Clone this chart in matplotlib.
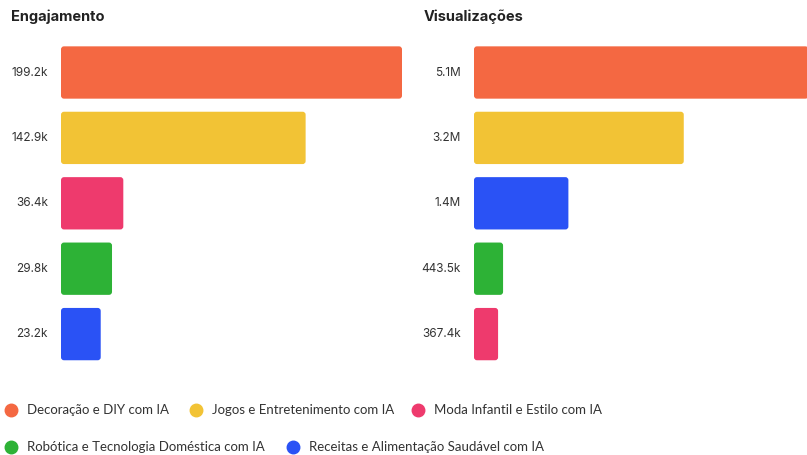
import matplotlib
matplotlib.use("Agg")
import matplotlib.pyplot as plt
from matplotlib.lines import Line2D
from matplotlib.patches import FancyBboxPatch

# Data
eng_categories = ["Decoração e DIY com IA", "Jogos e Entretenimento com IA",
                  "Moda Infantil e Estilo com IA", "Robótica e Tecnologia Doméstica com IA",
                  "Receitas e Alimentação Saudável com IA"]
eng_values = [199.2, 142.9, 36.4, 29.8, 23.2]          # thousands
eng_labels = ["199.2k", "142.9k", "36.4k", "29.8k", "23.2k"]

vis_categories = ["Decoração e DIY com IA", "Jogos e Entretenimento com IA",
                  "Receitas e Alimentação Saudável com IA", "Robótica e Tecnologia Doméstica com IA",
                  "Moda Infantil e Estilo com IA"]
vis_values = [5.1, 3.2, 1.44, 0.4435, 0.3674]            # millions
vis_labels = ["5.1M", "3.2M", "1.4M", "443.5k", "367.4k"]

legend_order = ["Decoração e DIY com IA", "Jogos e Entretenimento com IA",
                "Moda Infantil e Estilo com IA", "Robótica e Tecnologia Doméstica com IA",
                "Receitas e Alimentação Saudável com IA"]

colors = {
    "Decoração e DIY com IA": "#F46842",
    "Jogos e Entretenimento com IA": "#F2C335",
    "Moda Infantil e Estilo com IA": "#EE3A6D",
    "Robótica e Tecnologia Doméstica com IA": "#2DB236",
    "Receitas e Alimentação Saudável com IA": "#2A52F5",
}

W, H = 807, 455
fig = plt.figure(figsize=(W / 100, H / 100), dpi=100)
fig.patch.set_facecolor("white")

def px_axes(x0, y0_top, w, h):
    return fig.add_axes([x0 / W, 1 - (y0_top + h) / H, w / W, h / H])

pitch = 65.4
top = 72.5 - pitch / 2
ax_h = pitch * 5

def panel(ax, cats, vals, labels, xmax, title, title_x, w_px):
    ys = list(range(len(vals)))
    bars = ax.barh(ys, vals, height=0.80, color=[colors[c] for c in cats])
    ax.set_xlim(0, xmax)
    ax.set_ylim(4.5, -0.5)
    ax.axis("off")
    xpx = xmax / w_px
    ypx = 5 / ax_h
    for b in bars:
        b.set_visible(False)
        fp = FancyBboxPatch((b.get_x(), b.get_y()), b.get_width(), b.get_height(),
                            boxstyle=f"round,pad=0,rounding_size={3 * xpx}",
                            mutation_aspect=ypx / xpx,
                            facecolor=b.get_facecolor(), edgecolor="none")
        ax.add_patch(fp)
    for y, lab in zip(ys, labels):
        ax.annotate(lab, xy=(0, y), xytext=(-13, 0), textcoords="offset pixels",
                    ha="right", va="center", fontsize=8.5, color="#333333",
                    family=["Inter", "DejaVu Sans"])
    fig.text(title_x / W, 1 - 17 / H, title, ha="left", va="center",
             fontsize=10.5, fontweight="bold", color="#222222",
             family=["Inter", "DejaVu Sans"])

ax1 = px_axes(61, top, 341, ax_h)
panel(ax1, eng_categories, eng_values, eng_labels, max(eng_values), "Engajamento", 11, 341)

ax2 = px_axes(474, top, 333, ax_h)
panel(ax2, vis_categories, vis_values, vis_labels, 5.08, "Visualizações", 424, 333)

# Legend
leg_pos = [(11, 410), (196, 410), (418, 410), (11, 447), (293, 447)]
for cat, (x, y) in zip(legend_order, leg_pos):
    fig.add_artist(Line2D([x / W], [1 - y / H], marker="o", markersize=9,
                          color=colors[cat], linestyle="none",
                          transform=fig.transFigure))
    fig.text((x + 16) / W, 1 - y / H, cat, ha="left", va="center",
             fontsize=9.5, color="#333333", family=["Lato", "DejaVu Sans"])

fig.savefig("out.png", dpi=100, facecolor="white")
